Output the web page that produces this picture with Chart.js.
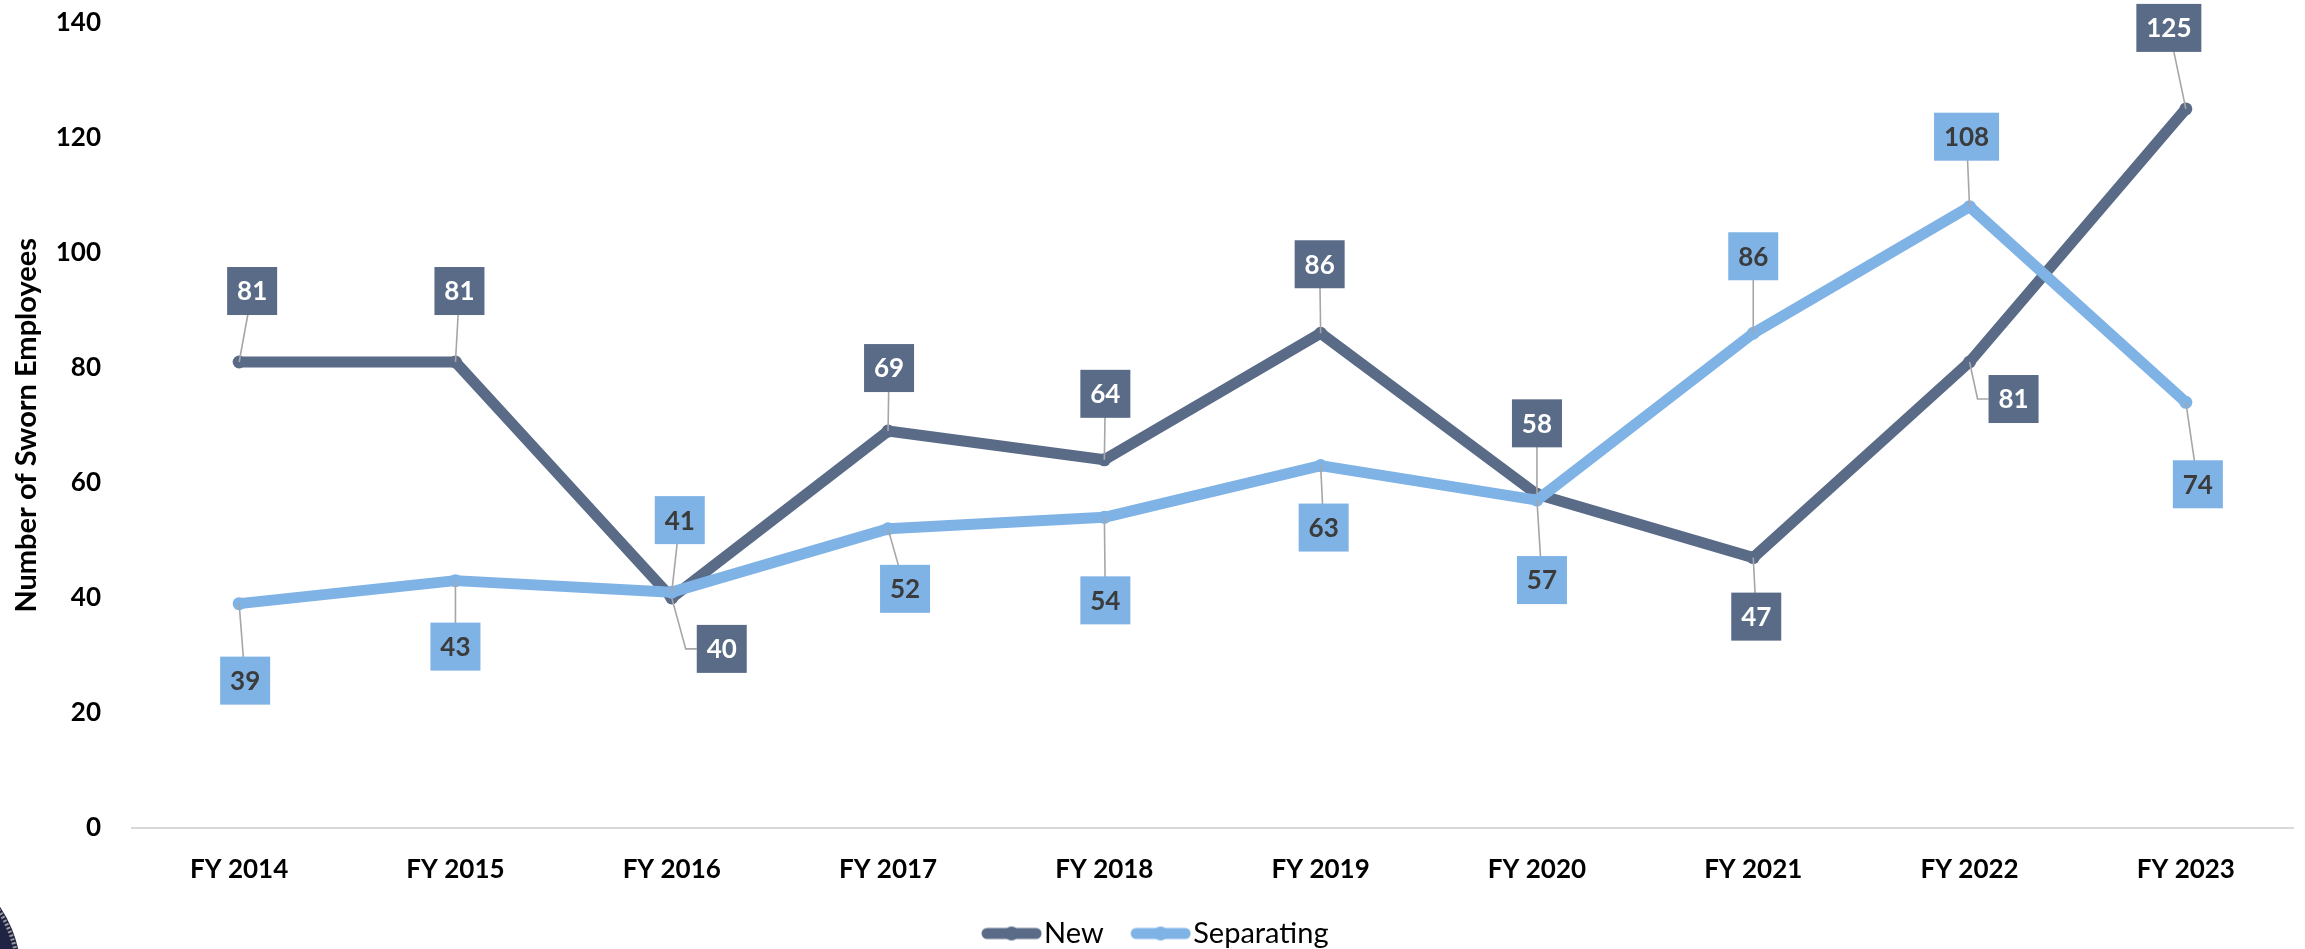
<!DOCTYPE html>
<html>
<head>
<meta charset="utf-8">
<script src="https://cdn.jsdelivr.net/npm/chart.js@4.4.0/dist/chart.umd.min.js"></script>
<style>
  html, body { margin: 0; padding: 0; background: #fff; }
  #wrap { width: 2305px; height: 949px; }
</style>
</head>
<body>
<div id="wrap"><canvas id="chart" width="2305" height="949"></canvas></div>
<script>
const years = ['FY 2014', 'FY 2015', 'FY 2016', 'FY 2017', 'FY 2018', 'FY 2019', 'FY 2020', 'FY 2021', 'FY 2022', 'FY 2023'];
const newHires = [81, 81, 40, 69, 64, 86, 58, 47, 81, 125];
const separating = [39, 43, 41, 52, 54, 63, 57, 86, 108, 74];
const yMin = 0, yMax = 140, yStep = 20;

// where each value box sits relative to its point (px), third item = elbow leader
const newLabelPos = [[13, -71], [4, -71], [50, 51, true], [1, -63], [1, -66], [-1, -69], [0, -71], [3, 59], [44, 37, true], [-17, -81]];
const sepLabelPos = [[6, 77], [0, 66], [8, -72], [17, 60], [1, 83], [3, 62], [5, 80], [0, -77], [-3, -70], [12, 82]];

const NEW_COLOR = '#5a6b87';
const SEP_COLOR = '#7fb2e5';
const FONT = 'Lato';

// legend swatch: thick line with a dot, transparent strip on the left so it sits close to its text
function legendIcon(color) {
  const c = document.createElement('canvas');
  c.width = 89; c.height = 16;
  const g = c.getContext('2d');
  g.strokeStyle = color; g.lineWidth = 11; g.lineCap = 'round';
  g.beginPath(); g.moveTo(34, 8); g.lineTo(83, 8); g.stroke();
  g.fillStyle = color;
  g.beginPath(); g.arc(58.5, 8, 7, 0, Math.PI * 2); g.fill();
  return c;
}
const icons = [legendIcon(NEW_COLOR), legendIcon(SEP_COLOR)];

const boxLabels = {
  id: 'boxLabels',
  afterDatasetsDraw(chart) {
    const ctx = chart.ctx;
    const sets = [
      { di: 0, pos: newLabelPos, text: '#ffffff' },
      { di: 1, pos: sepLabelPos, text: '#3b3b3b' }
    ];
    ctx.save();
    ctx.font = `bold 26px ${FONT}`;
    sets.forEach(s => {
      const ds = chart.data.datasets[s.di];
      const meta = chart.getDatasetMeta(s.di);
      meta.data.forEach((pt, i) => {
        const [dx, dy, elbow] = s.pos[i];
        const txt = String(ds.data[i]);
        const w = Math.round(ctx.measureText(txt).width + 20), h = 48;
        const bx = pt.x + dx, by = pt.y + dy;
        ctx.strokeStyle = '#a6a6a6';
        ctx.lineWidth = 1.6;
        ctx.beginPath();
        ctx.moveTo(pt.x, pt.y);
        if (elbow) {
          ctx.lineTo(bx - w / 2 - 11, by);
          ctx.lineTo(bx - w / 2, by);
        } else {
          ctx.lineTo(bx, by);
        }
        ctx.stroke();
        ctx.fillStyle = ds.borderColor;
        ctx.fillRect(bx - w / 2, by - h / 2, w, h);
        ctx.fillStyle = s.text;
        ctx.textAlign = 'center';
        ctx.textBaseline = 'middle';
        ctx.fillText(txt, bx, by + 1);
      });
    });
    ctx.restore();
  }
};

// nudge the legend a little lower than Chart.js puts it
const legendShift = {
  id: 'legendShift',
  afterLayout(chart) {
    if (chart.legend) { chart.legend.top += 9; chart.legend.bottom += 9; }
  }
};

// corner of the seal peeking in at bottom left
const seal = {
  id: 'seal',
  afterDraw(chart) {
    const ctx = chart.ctx;
    ctx.save();
    ctx.beginPath(); ctx.arc(-100, 975, 121, 0, Math.PI * 2);
    ctx.fillStyle = '#1f2444'; ctx.fill();
    ctx.setLineDash([2, 2]);
    ctx.lineWidth = 4; ctx.strokeStyle = '#9a9a9a';
    ctx.beginPath(); ctx.arc(-100, 975, 118, 0, Math.PI * 2); ctx.stroke();
    ctx.restore();
  }
};

new Chart(document.getElementById('chart'), {
  type: 'line',
  data: {
    labels: years,
    datasets: [
      {
        label: 'New', data: newHires, order: 1,
        borderColor: NEW_COLOR, backgroundColor: NEW_COLOR,
        borderWidth: 11, tension: 0, borderCapStyle: 'round', borderJoinStyle: 'round',
        pointRadius: 6.5, pointBorderWidth: 0, pointBackgroundColor: NEW_COLOR
      },
      {
        label: 'Separating', data: separating, order: 0,
        borderColor: SEP_COLOR, backgroundColor: SEP_COLOR,
        borderWidth: 11, tension: 0, borderCapStyle: 'round', borderJoinStyle: 'round',
        pointRadius: 6.5, pointBorderWidth: 0, pointBackgroundColor: SEP_COLOR
      }
    ]
  },
  options: {
    responsive: false,
    animation: false,
    layout: { padding: { top: 0, right: 11, left: 0, bottom: 0 } },
    plugins: {
      tooltip: { enabled: false },
      legend: {
        position: 'bottom',
        labels: {
          usePointStyle: true,
          pointStyleWidth: 64,
          padding: 11,
          color: '#000',
          font: { family: FONT, size: 29 },
          sort: (a, b) => a.datasetIndex - b.datasetIndex,
          generateLabels(chart) {
            const items = Chart.defaults.plugins.legend.labels.generateLabels(chart);
            items.forEach(it => { it.pointStyle = icons[it.datasetIndex]; });
            return items;
          }
        }
      }
    },
    scales: {
      x: {
        offset: true,
        grid: { display: false, drawTicks: false },
        border: { display: false },
        ticks: { color: '#000', padding: 26, font: { family: FONT, size: 26, weight: 'bold' } },
        afterFit: s => { s.height = 71; }
      },
      y: {
        min: yMin, max: yMax,
        ticks: { stepSize: yStep, color: '#000', padding: 7, font: { family: FONT, size: 26, weight: 'bold' } },
        grid: {
          drawTicks: true,
          tickLength: 23,
          tickColor: 'rgba(0,0,0,0)',
          lineWidth: 2,
          color: c => (c.tick && c.tick.value === 0 ? '#d9d9d9' : 'rgba(0,0,0,0)')
        },
        border: { display: false },
        title: {
          display: true,
          text: 'Number of Sworn Employees',
          color: '#000',
          padding: { top: 9, bottom: 0 },
          font: { family: FONT, size: 29, weight: 'bold' }
        },
        afterFit: s => { s.width = 131; }
      }
    }
  },
  plugins: [boxLabels, legendShift, seal]
});
</script>
</body>
</html>
